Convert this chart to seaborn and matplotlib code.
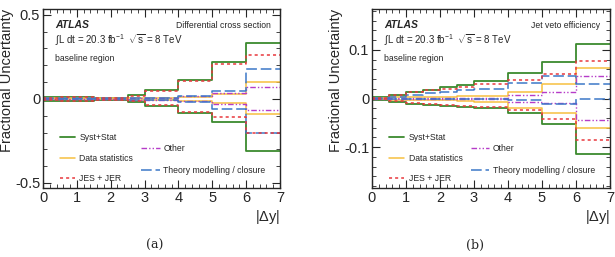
import numpy as np
import pandas as pd
import matplotlib
matplotlib.use("Agg")
import matplotlib.pyplot as plt
from matplotlib.ticker import MultipleLocator, FixedLocator
from matplotlib.lines import Line2D
import seaborn as sns

# bin edges in |dy|
edges = [0, 0.5, 1, 1.5, 2, 2.5, 3, 4, 5, 6, 7]

# (a) differential cross section
a_tot_up = [0.010, 0.013, 0.013, 0.008, 0.008, 0.022, 0.052, 0.113, 0.220, 0.335]
a_tot_dn = [-0.010, -0.012, -0.012, -0.007, -0.007, -0.018, -0.043, -0.082, -0.135, -0.308]
a_stat_up = [0.003, 0.003, 0.003, 0.003, 0.003, 0.004, 0.004, 0.010, 0.032, 0.098]
a_stat_dn = [-0.003, -0.003, -0.003, -0.003, -0.003, -0.004, -0.004, -0.010, -0.025, -0.092]
a_jes_up = [0.008, 0.010, 0.010, 0.006, 0.006, 0.016, 0.047, 0.108, 0.210, 0.263]
a_jes_dn = [-0.008, -0.010, -0.010, -0.005, -0.005, -0.014, -0.038, -0.077, -0.110, -0.203]
a_oth_up = [0.002, 0.002, 0.002, 0.002, 0.002, 0.005, 0.006, 0.020, 0.033, 0.073]
a_oth_dn = [-0.002, -0.002, -0.002, -0.002, -0.002, -0.004, -0.005, -0.015, -0.030, -0.063]
a_th_up = [0.003, 0.003, 0.003, 0.003, 0.003, 0.005, 0.005, 0.020, 0.048, 0.178]
a_th_dn = [-0.003, -0.003, -0.003, -0.003, -0.003, -0.005, -0.006, -0.018, -0.058, -0.203]

# (b) jet veto efficiency
b_tot_up = [0.003, 0.008, 0.013, 0.018, 0.023, 0.028, 0.035, 0.052, 0.075, 0.113]
b_tot_dn = [-0.003, -0.008, -0.012, -0.014, -0.016, -0.017, -0.019, -0.030, -0.053, -0.114]
b_stat_up = [0.001, 0.003, 0.003, 0.004, 0.004, 0.005, 0.006, 0.013, 0.030, 0.062]
b_stat_dn = [-0.001, -0.003, -0.003, -0.004, -0.004, -0.005, -0.007, -0.019, -0.030, -0.060]
b_jes_up = [0.002, 0.007, 0.013, 0.017, 0.020, 0.023, 0.029, 0.039, 0.050, 0.078]
b_jes_dn = [-0.002, -0.006, -0.010, -0.012, -0.014, -0.015, -0.017, -0.023, -0.042, -0.086]
b_oth_up = [0.001, 0.001, 0.001, 0.001, 0.001, 0.001, 0.002, 0.008, 0.013, 0.046]
b_oth_dn = [-0.001, -0.001, -0.001, -0.001, -0.001, -0.001, -0.002, -0.007, -0.010, -0.045]
b_th_up = [0.001, 0.003, 0.008, 0.011, 0.014, 0.017, 0.019, 0.032, 0.046, 0.030]
b_th_dn = [-0.001, -0.001, -0.001, -0.001, 0.000, 0.000, 0.000, -0.004, -0.011, -0.001]

labels = ["Syst+Stat", "Data statistics", "JES + JER", "Other", "Theory modelling / closure"]
styles = {
    "Syst+Stat": dict(color="#3c8a2e", ls="-", lw=1.3),
    "Data statistics": dict(color="#f7c040", ls="-", lw=1.1),
    "JES + JER": dict(color="#e8383d", ls=(0, (2, 2)), lw=1.1),
    "Other": dict(color="#b63cc8", ls=(0, (4, 1.5, 1, 1.5, 1, 1.5)), lw=1.0),
    "Theory modelling / closure": dict(color="#3c78c8", ls=(0, (7, 2.5)), lw=1.1),
}

sns.set_style("ticks")
plt.rcParams['font.family'] = ['Liberation Sans', 'DejaVu Sans']
plt.rcParams['mathtext.fontset'] = 'custom'
plt.rcParams['mathtext.rm'] = 'Liberation Sans'
plt.rcParams['mathtext.it'] = 'Liberation Sans:italic'


def step_frame(up, dn, name):
    rows = []
    for side, vals in (("up", up), ("dn", dn)):
        v = list(vals) + [vals[-1]]
        for xi, yi in zip(edges, v):
            rows.append({"x": xi, "y": yi, "side": side, "src": name})
    return pd.DataFrame(rows)


def panel(ax, series, ylim, ymajor, yminor, yticklabels, title):
    # total drawn first so the components sit on top of it
    for name, (up, dn) in series.items():
        df = step_frame(up, dn, name)
        st = styles[name]
        for side in ("up", "dn"):
            d = df[df.side == side]
            sns.lineplot(data=d, x="x", y="y", ax=ax, estimator=None, sort=False,
                         drawstyle="steps-post", color=st["color"], linestyle=st["ls"],
                         linewidth=st["lw"], legend=False)
    ax.set_xlim(0, 7)
    ax.set_ylim(*ylim)
    ax.xaxis.set_major_locator(MultipleLocator(1))
    ax.xaxis.set_minor_locator(MultipleLocator(0.2))
    ax.yaxis.set_major_locator(FixedLocator(ymajor))
    ax.yaxis.set_minor_locator(MultipleLocator(yminor))
    ax.set_yticklabels(yticklabels)
    ax.tick_params(which="both", direction="in", top=True, right=True, labelsize=10.5, pad=2)
    ax.tick_params(which="major", length=6, width=0.8)
    ax.tick_params(which="minor", length=3, width=0.6)
    for s in ax.spines.values():
        s.set_linewidth(1.0)
    ax.set_xlabel("")
    ax.set_ylabel("Fractional Uncertainty", fontsize=10.5, labelpad=1, loc="top")
    ax.text(1.0, -0.11, r"|$\Delta$y|", transform=ax.transAxes, ha="right", va="top", fontsize=10.5)

    ax.text(0.05, 0.91, "ATLAS", transform=ax.transAxes, fontsize=7.5, weight="bold",
            style="italic", va="center")
    ax.text(0.96, 0.91, title, transform=ax.transAxes, fontsize=6.2, ha="right", va="center")
    ax.text(0.05, 0.825, r"$\int$L dt = 20.3 fb$^{-1}$  $\sqrt{\mathrm{s}}$ = 8 TeV",
            transform=ax.transAxes, fontsize=7, va="center")
    ax.text(0.05, 0.725, "baseline region", transform=ax.transAxes, fontsize=6.2, va="center")

    h = [Line2D([], [], color=styles[n]["color"], linestyle=styles[n]["ls"],
                linewidth=styles[n]["lw"]) for n in labels]
    leg1 = ax.legend(h[:3], labels[:3], loc="upper left", bbox_to_anchor=(0.045, 0.34),
                     frameon=False, fontsize=6.2, handlelength=1.8, labelspacing=1.33,
                     handletextpad=0.5, borderpad=0.2)
    ax.add_artist(leg1)
    ax.legend(h[3:], labels[3:], loc="upper left", bbox_to_anchor=(0.39, 0.28),
              frameon=False, fontsize=6.2, handlelength=2.1, labelspacing=1.56,
              handletextpad=0.45, borderpad=0.2)


fig = plt.figure(figsize=(6.15, 2.57), dpi=100)
W, H = 615, 257
ax_a = fig.add_axes([43 / W, (H - 188) / H, 237 / W, 179 / H])
ax_b = fig.add_axes([372 / W, (H - 188) / H, 238 / W, 179 / H])

series_a = {
    "Syst+Stat": (a_tot_up, a_tot_dn),
    "Data statistics": (a_stat_up, a_stat_dn),
    "Other": (a_oth_up, a_oth_dn),
    "Theory modelling / closure": (a_th_up, a_th_dn),
    "JES + JER": (a_jes_up, a_jes_dn),
}
series_b = {
    "Syst+Stat": (b_tot_up, b_tot_dn),
    "Data statistics": (b_stat_up, b_stat_dn),
    "Other": (b_oth_up, b_oth_dn),
    "Theory modelling / closure": (b_th_up, b_th_dn),
    "JES + JER": (b_jes_up, b_jes_dn),
}

panel(ax_a, series_a, (-0.53, 0.535), [-0.5, 0, 0.5], 0.1, ["-0.5", "0", "0.5"],
      "Differential cross section")
panel(ax_b, series_b, (-0.184, 0.184), [-0.1, 0, 0.1], 0.02, ["-0.1", "0", "0.1"],
      "Jet veto efficiency")

fig.text(155 / W, 1 - 245 / H, "(a)", ha="center", va="center", fontsize=9, family="DejaVu Serif")
fig.text(475 / W, 1 - 245 / H, "(b)", ha="center", va="center", fontsize=9, family="DejaVu Serif")

fig.savefig("out.png", dpi=100)
